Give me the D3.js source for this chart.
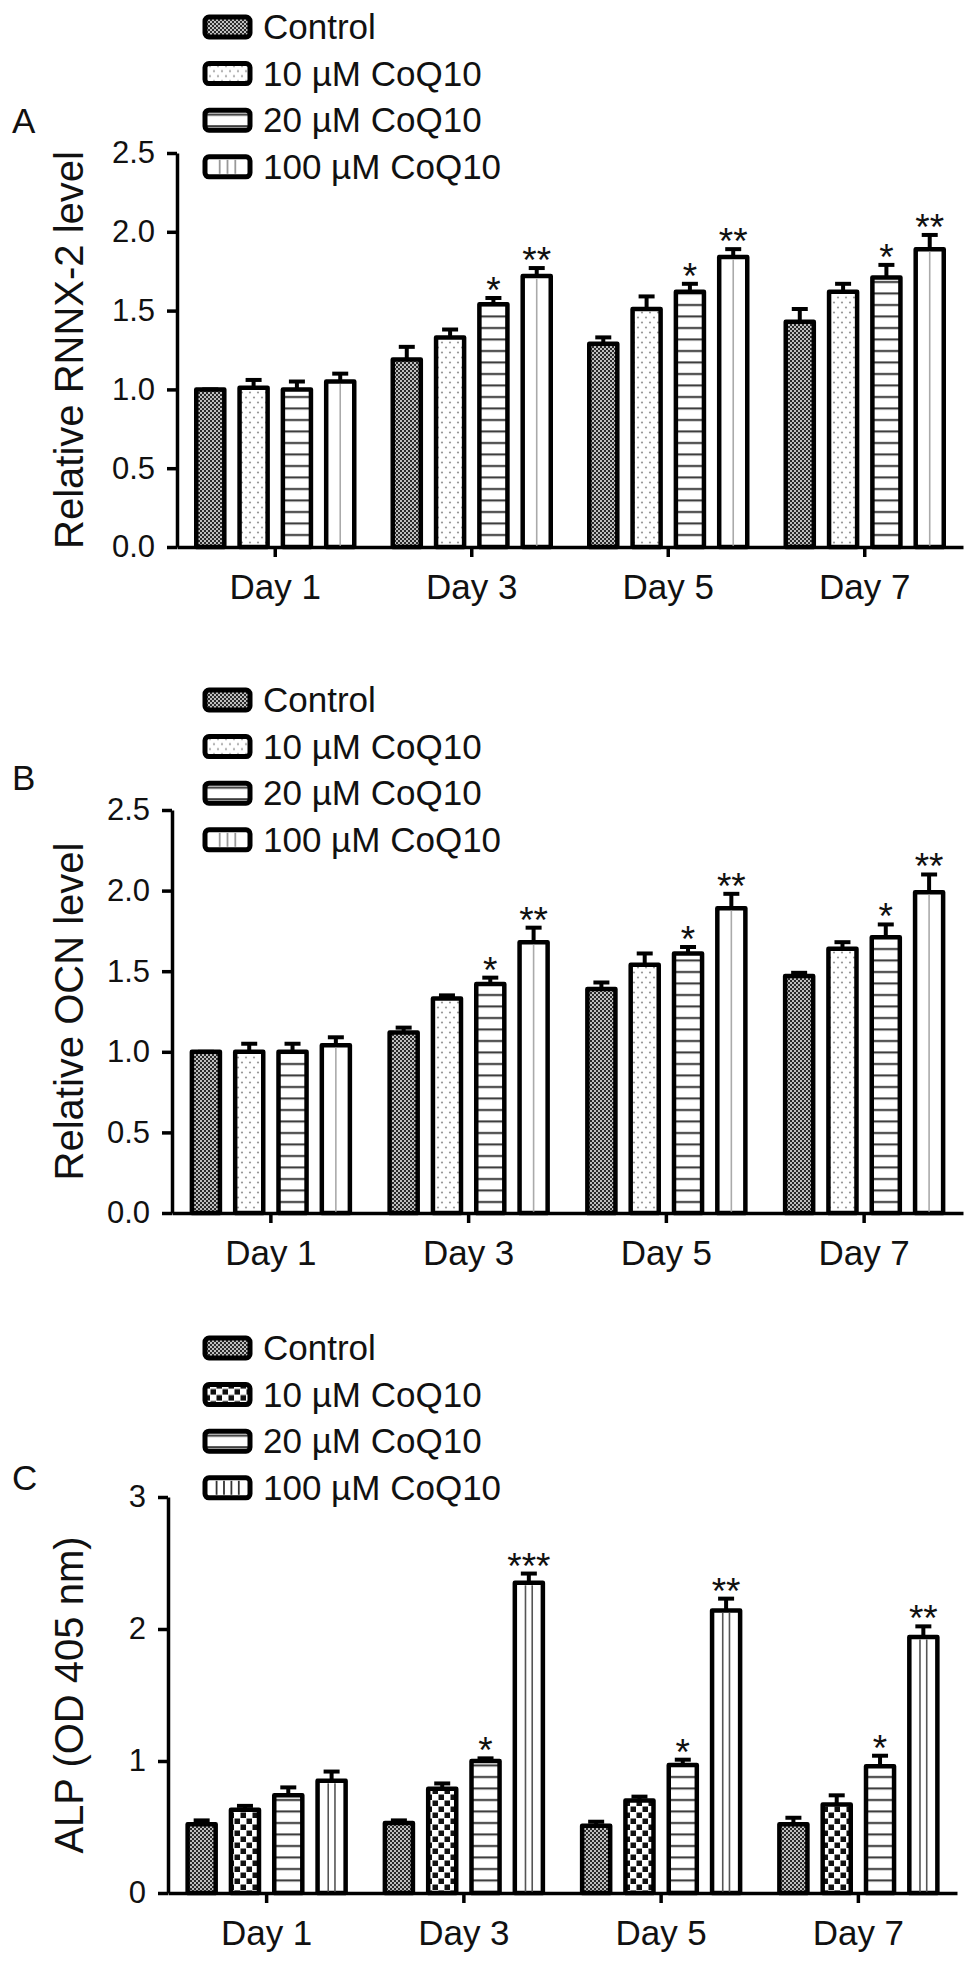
<!DOCTYPE html>
<html>
<head>
<meta charset="utf-8">
<script src="https://cdn.jsdelivr.net/npm/d3@7"></script>
<style>
  body { margin: 0; background: #fff; }
  text { font-family: "Liberation Sans", Arial, Helvetica, sans-serif; fill: #111; }
</style>
</head>
<body>
<div id="chart"></div>
<script>
var w = 969;
var h = 1970;

// data
var days = ["Day 1", "Day 3", "Day 5", "Day 7"];
var groups = ["Control", "10 \u00b5M CoQ10", "20 \u00b5M CoQ10", "100 \u00b5M CoQ10"];

// rows = days, columns = groups
var runx2Mean = [[1.00, 1.01, 1.00, 1.05], [1.19, 1.33, 1.54, 1.72], [1.29, 1.51, 1.62, 1.84], [1.43, 1.62, 1.71, 1.89]];
var runx2Err  = [[0.00, 0.05, 0.05, 0.05], [0.08, 0.05, 0.04, 0.05], [0.04, 0.08, 0.05, 0.05], [0.08, 0.05, 0.08, 0.09]];
var runx2Sig  = [["", "", "", ""], ["", "", "*", "**"], ["", "", "*", "**"], ["", "", "*", "**"]];

var ocnMean = [[1.00, 1.00, 1.00, 1.04], [1.12, 1.33, 1.42, 1.68], [1.39, 1.54, 1.61, 1.89], [1.47, 1.64, 1.71, 1.99]];
var ocnErr  = [[0.00, 0.05, 0.05, 0.05], [0.03, 0.02, 0.04, 0.09], [0.04, 0.07, 0.04, 0.09], [0.02, 0.04, 0.08, 0.11]];
var ocnSig  = [["", "", "", ""], ["", "", "*", "**"], ["", "", "*", "**"], ["", "", "*", "**"]];

var alpMean = [[0.52, 0.63, 0.74, 0.85], [0.53, 0.79, 1.00, 2.35], [0.51, 0.70, 0.97, 2.14], [0.52, 0.67, 0.96, 1.94]];
var alpErr  = [[0.03, 0.03, 0.06, 0.07], [0.02, 0.04, 0.02, 0.07], [0.03, 0.03, 0.04, 0.09], [0.05, 0.07, 0.08, 0.08]];
var alpSig  = [["", "", "", ""], ["", "", "*", "***"], ["", "", "*", "**"], ["", "", "*", "**"]];

var ticksAB = [0, 0.5, 1.0, 1.5, 2.0, 2.5];
var ticksC = [0, 1, 2, 3];

var svg = d3.select("#chart")
    .append("svg")
    .attr("width", w)
    .attr("height", h);

var defs = svg.append("defs");

// control: dark halftone
var p = defs.append("pattern").attr("id", "pCtrl").attr("patternUnits", "userSpaceOnUse")
    .attr("width", 4).attr("height", 4);
p.append("rect").attr("width", 4).attr("height", 4).attr("fill", "#2a2a2a");
p.append("circle").attr("cx", 1).attr("cy", 1).attr("r", 0.95).attr("fill", "#fff");
p.append("circle").attr("cx", 3).attr("cy", 3).attr("r", 0.95).attr("fill", "#fff");

// sparse grey dots
p = defs.append("pattern").attr("id", "pDots").attr("patternUnits", "userSpaceOnUse")
    .attr("width", 8).attr("height", 10);
p.append("rect").attr("width", 8).attr("height", 10).attr("fill", "#fff");
p.append("circle").attr("cx", 2).attr("cy", 2.5).attr("r", 1.1).attr("fill", "#999");
p.append("circle").attr("cx", 6).attr("cy", 7.5).attr("r", 1.1).attr("fill", "#999");

// checkerboard (panel C)
p = defs.append("pattern").attr("id", "pCheck").attr("patternUnits", "userSpaceOnUse")
    .attr("width", 12).attr("height", 12);
p.append("rect").attr("width", 12).attr("height", 12).attr("fill", "#fff");
p.append("rect").attr("x", 0.5).attr("y", 0.5).attr("width", 5.5).attr("height", 5.5).attr("fill", "#111");
p.append("rect").attr("x", 6.5).attr("y", 6.5).attr("width", 5.5).attr("height", 5.5).attr("fill", "#111");

// horizontal stripes
p = defs.append("pattern").attr("id", "pStripe").attr("patternUnits", "userSpaceOnUse")
    .attr("width", 12).attr("height", 11.5);
p.append("rect").attr("width", 12).attr("height", 11.5).attr("fill", "#fff");
p.append("line").attr("x1", 0).attr("x2", 12).attr("y1", 6).attr("y2", 6)
    .attr("stroke", "#333").attr("stroke-width", 2);

var panels = [
    { letter: "A", title: "Relative RNNX-2 level", mean: runx2Mean, err: runx2Err, sig: runx2Sig,
      ticks: ticksAB, fmt: ".1f", y0: 547, y1: 153, x0: 177, x1: 963, legendY: 27, letterY: 133,
      fills: ["url(#pCtrl)", "url(#pDots)", "url(#pStripe)", "#fff"], vlines: [0.5], legendV: [0.3, 0.5, 0.7], vColor: "#aaa" },
    { letter: "B", title: "Relative OCN level", mean: ocnMean, err: ocnErr, sig: ocnSig,
      ticks: ticksAB, fmt: ".1f", y0: 1213, y1: 810, x0: 172, x1: 963, legendY: 700, letterY: 790,
      fills: ["url(#pCtrl)", "url(#pDots)", "url(#pStripe)", "#fff"], vlines: [0.5], legendV: [0.3, 0.5, 0.7], vColor: "#aaa" },
    { letter: "C", title: "ALP (OD 405 nm)", mean: alpMean, err: alpErr, sig: alpSig,
      ticks: ticksC, fmt: "d", y0: 1893, y1: 1497, x0: 168, x1: 957, legendY: 1348, letterY: 1490,
      fills: ["url(#pCtrl)", "url(#pCheck)", "url(#pStripe)", "#fff"], vlines: [0.36, 0.64], legendV: [0.22, 0.41, 0.6, 0.79], vColor: "#555" }
];

panels.forEach(function (P) {
    var g = svg.append("g");

    var yScale = d3.scaleLinear()
        .domain([0, d3.max(P.ticks)])
        .range([P.y0, P.y1]);

    var xScale = d3.scaleBand()
        .domain(days)
        .range([P.x0, P.x1])
        .padding(0);

    var half = 81;
    var inner = d3.scaleBand()
        .domain(d3.range(groups.length))
        .range([-half, half])
        .paddingInner(0.26);

    var bw = inner.bandwidth();

    // flatten to records
    var recs = [];
    days.forEach(function (d, i) {
        groups.forEach(function (s, j) {
            recs.push({ day: d, k: j, v: P.mean[i][j], e: P.err[i][j], sig: P.sig[i][j] });
        });
    });

    function cx(r) { return xScale(r.day) + xScale.bandwidth() / 2 + inner(r.k) + bw / 2; }

    var bars = g.selectAll(".bar").data(recs).enter().append("g");

    bars.append("rect")
        .attr("x", function (r) { return cx(r) - bw / 2 + 2; })
        .attr("y", function (r) { return yScale(r.v); })
        .attr("width", bw - 4)
        .attr("height", function (r) { return yScale(0) - yScale(r.v); })
        .attr("fill", function (r) { return P.fills[r.k]; })
        .attr("stroke", "#000")
        .attr("stroke-width", 4.5)
        .attr("stroke-linejoin", "round");

    // thin vertical lines inside the 100 uM bars
    bars.filter(function (r) { return r.k === 3; })
        .each(function (r) {
            var sel = d3.select(this);
            P.vlines.forEach(function (f) {
                sel.append("line")
                    .attr("x1", cx(r) - bw / 2 + 4 + f * (bw - 8))
                    .attr("x2", cx(r) - bw / 2 + 4 + f * (bw - 8))
                    .attr("y1", yScale(r.v) + 2.5)
                    .attr("y2", yScale(0))
                    .attr("stroke", P.vColor)
                    .attr("stroke-width", 1.6);
            });
        });

    // error bars (upper only)
    bars.append("line")
        .attr("x1", cx).attr("x2", cx)
        .attr("y1", function (r) { return yScale(r.v); })
        .attr("y2", function (r) { return yScale(r.v + r.e); })
        .attr("stroke", "#000").attr("stroke-width", 4);
    bars.append("line")
        .attr("x1", function (r) { return cx(r) - 8; })
        .attr("x2", function (r) { return cx(r) + 8; })
        .attr("y1", function (r) { return yScale(r.v + r.e); })
        .attr("y2", function (r) { return yScale(r.v + r.e); })
        .attr("stroke", "#000").attr("stroke-width", 4);

    // significance stars
    bars.filter(function (r) { return r.sig !== ""; })
        .append("text")
        .attr("x", cx)
        .attr("y", function (r) { return yScale(r.v + r.e) + 5; })
        .attr("text-anchor", "middle")
        .attr("font-size", 37)
        .text(function (r) { return r.sig; });

    // axes
    var yAxis = d3.axisLeft(yScale)
        .tickValues(P.ticks)
        .tickFormat(d3.format(P.fmt))
        .tickSize(10)
        .tickSizeOuter(0)
        .tickPadding(12);

    var ya = g.append("g")
        .attr("transform", "translate(" + P.x0 + ",0)")
        .call(yAxis);
    ya.selectAll("text").attr("font-size", 31).attr("font-family", null);

    var xAxis = d3.axisBottom(xScale)
        .tickSize(10)
        .tickSizeOuter(0)
        .tickPadding(17);

    var xa = g.append("g")
        .attr("transform", "translate(0," + P.y0 + ")")
        .call(xAxis);
    xa.selectAll("text").attr("font-size", 35).attr("font-family", null);

    g.selectAll(".domain, .tick line")
        .attr("stroke", "#000")
        .attr("stroke-width", 3.5);
    g.selectAll(".tick text").attr("fill", "#111");

    // y title
    g.append("text")
        .attr("transform", "translate(83," + (P.y0 + P.y1) / 2 + ") rotate(-90)")
        .attr("text-anchor", "middle")
        .attr("font-size", 40)
        .text(P.title);

    // panel letter
    g.append("text")
        .attr("x", 12)
        .attr("y", P.letterY)
        .attr("font-size", 35)
        .text(P.letter);

    // legend
    var pitch = 46.6;
    var leg = g.selectAll(".leg").data(groups).enter().append("g")
        .attr("transform", function (d, i) { return "translate(0," + (P.legendY + i * pitch) + ")"; });

    leg.append("rect")
        .attr("x", 205).attr("y", -10)
        .attr("width", 45).attr("height", 20)
        .attr("rx", 4)
        .attr("fill", function (d, i) { return P.fills[i]; })
        .attr("stroke", "#000")
        .attr("stroke-width", 5);

    leg.filter(function (d, i) { return i === 3; })
        .each(function () {
            var sel = d3.select(this);
            P.legendV.forEach(function (f) {
                sel.append("line")
                    .attr("x1", 208 + f * 39).attr("x2", 208 + f * 39)
                    .attr("y1", -7).attr("y2", 7)
                    .attr("stroke", P.vColor === "#aaa" ? "#999" : "#333")
                    .attr("stroke-width", 1.8);
            });
        });

    leg.append("text")
        .attr("x", 263)
        .attr("y", 12)
        .attr("font-size", 35)
        .text(function (d) { return d; });
});
</script>
</body>
</html>
